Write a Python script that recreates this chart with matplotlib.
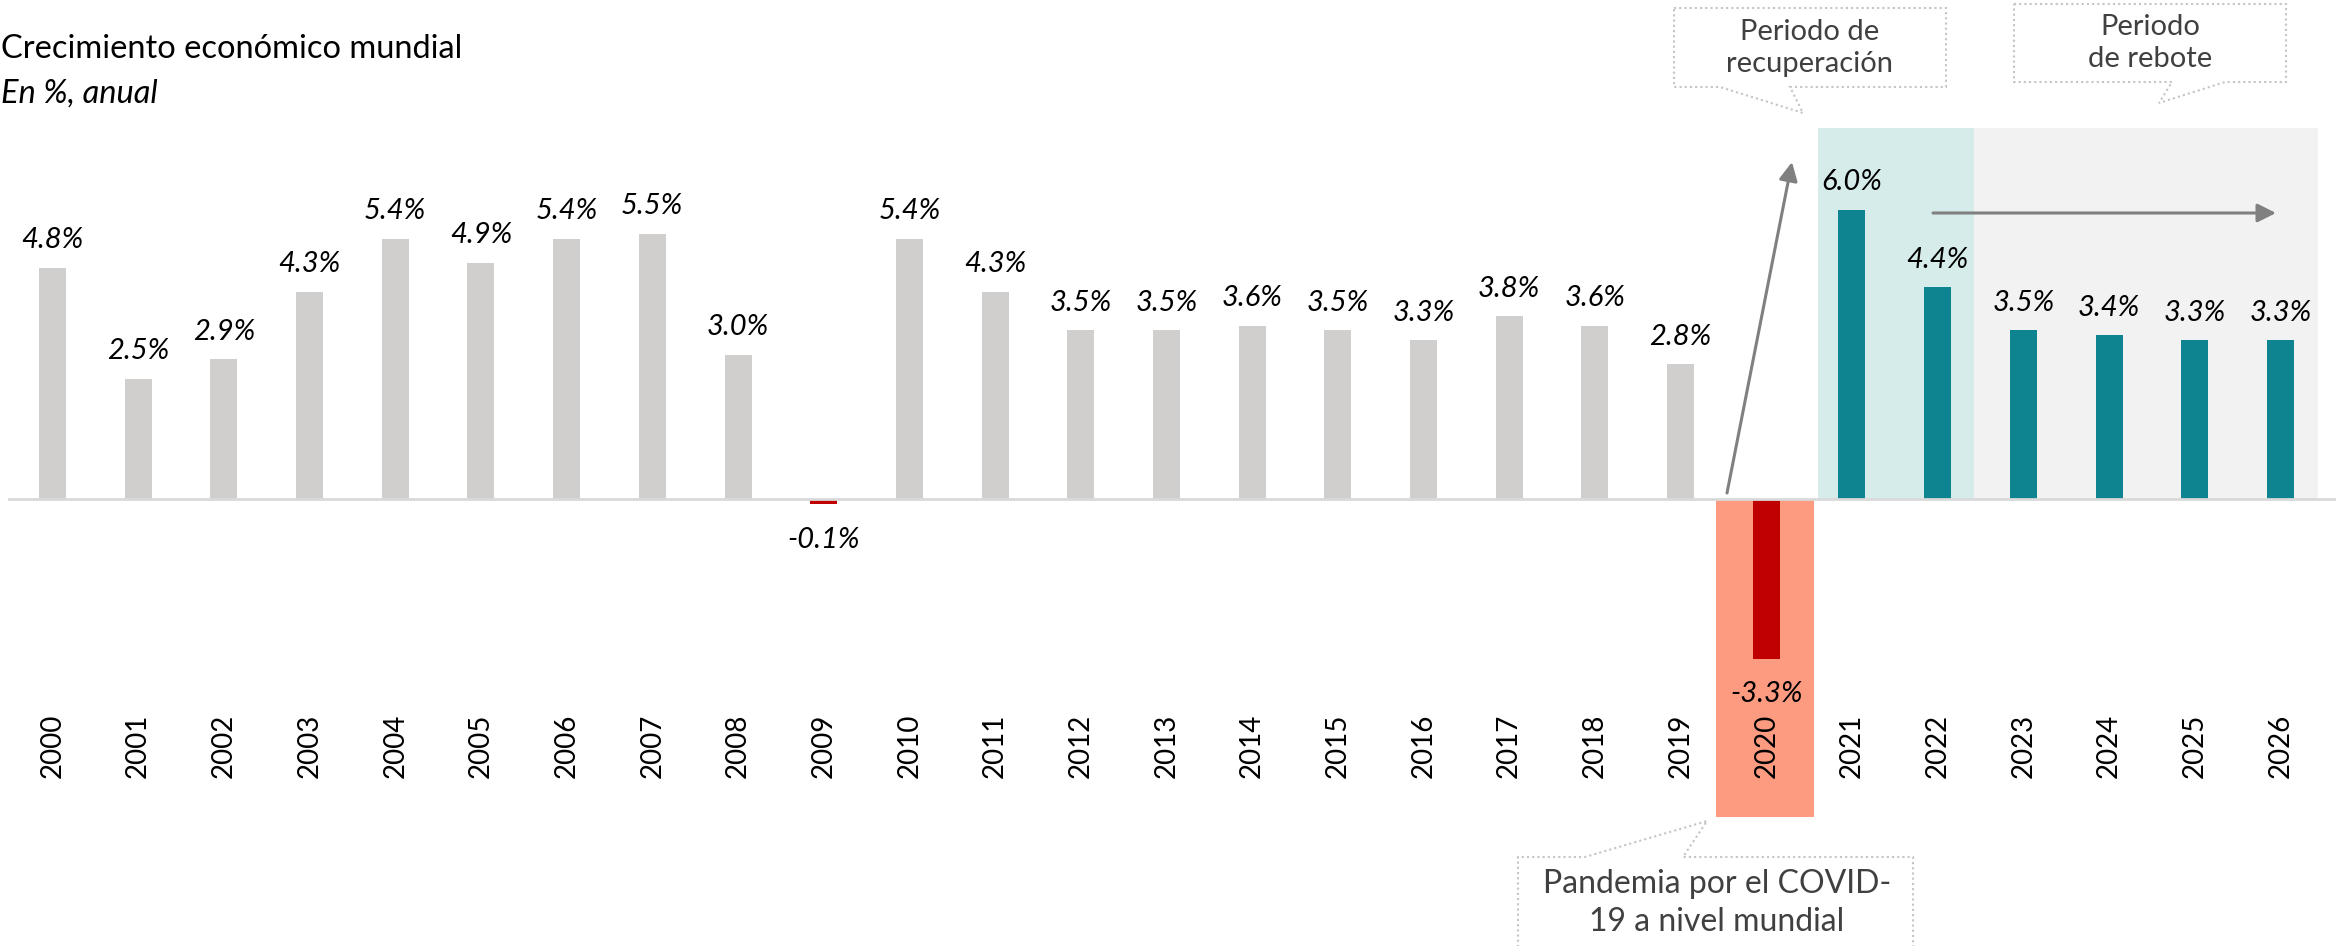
import matplotlib
matplotlib.use("Agg")
import matplotlib.pyplot as plt
from matplotlib.patches import Polygon

plt.rcParams['font.family'] = ['Lato', 'DejaVu Sans']

years = [str(y) for y in range(2000, 2027)]
growth = [4.8, 2.5, 2.9, 4.3, 5.4, 4.9, 5.4, 5.5, 3.0, -0.1,
          5.4, 4.3, 3.5, 3.5, 3.6, 3.5, 3.3, 3.8, 3.6, 2.8,
          -3.3, 6.0, 4.4, 3.5, 3.4, 3.3, 3.3]
title = "Crecimiento económico mundial"
subtitle = "En %, anual"
note_recovery = "Periodo de\nrecuperación"
note_rebound = "Periodo\nde rebote"
note_covid = "Pandemia por el COVID-\n19 a nivel mundial"

GRAY = "#d0cfce"
TEAL = "#0e8490"
RED = "#c00000"
W, H = 2338, 946

fig = plt.figure(figsize=(W / 100, H / 100), dpi=100)
ax = fig.add_axes([0, 0, 1, 1])
ax.axis('off')

# pixel layout of the reference: first bar at 52.5 px, 85.69 px per year, zero at 499.5 px
step = 85.69
ppu = 48.3
ax.set_xlim(-52.5 / step, (W - 52.5) / step)
ax.set_ylim(-(H - 499.5) / ppu, 499.5 / ppu)


def px(x, y):
    # figure pixel (y from top) -> figure fraction
    return x / W, 1 - y / H


x = list(range(len(years)))
colors = []
for yr, v in zip(years, growth):
    if v < 0:
        colors.append(RED)
    elif int(yr) >= 2021:
        colors.append(TEAL)
    else:
        colors.append(GRAY)

# background highlight zones
i2020 = years.index("2020")
ax.fill_between([i2020 - 0.59, i2020 + 0.56], 0, -6.57, color="#fd9b81", lw=0, zorder=0)
ax.fill_between([i2020 + 0.60, i2020 + 2.42], 0, 7.69, color="#d6ecea", lw=0, zorder=0)
ax.fill_between([i2020 + 2.42, i2020 + 6.44], 0, 7.69, color="#f2f2f2", lw=0, zorder=0)

ax.bar(x, growth, width=0.315, color=colors, zorder=2)
ax.plot([-0.51, len(years) - 0.37], [0, 0], color="#d9d9d9", lw=2, zorder=3)

for i, v in enumerate(growth):
    if v >= 0:
        ax.annotate(f"{v:.1f}%", (i, v), xytext=(0, 14), textcoords='offset points',
                    ha='center', va='baseline', fontsize=21, style='italic', color='black')
    else:
        ax.annotate(f"{v:.1f}%", (i, v), xytext=(0, -16), textcoords='offset points',
                    ha='center', va='top', fontsize=21, style='italic', color='black')
    ax.text(i, -5.10, years[i], rotation=90, ha='center', va='center', fontsize=20, color='black')

fig.text(*px(1, 58), title, fontsize=23.5, ha='left', va='baseline', color='black')
fig.text(*px(1, 103), subtitle, fontsize=23.5, ha='left', va='baseline', style='italic', color='black')

# arrows
ax.annotate("", xy=px(1792, 162), xytext=px(1727, 493), xycoords='figure fraction',
            textcoords='figure fraction',
            arrowprops=dict(arrowstyle='-|>', color='#808080', lw=2.2, mutation_scale=28, shrinkA=0, shrinkB=0))
ax.annotate("", xy=px(2276, 213), xytext=px(1933, 213), xycoords='figure fraction',
            textcoords='figure fraction',
            arrowprops=dict(arrowstyle='-|>', color='#808080', lw=2.2, mutation_scale=28, shrinkA=0, shrinkB=0))

# callouts
callouts = [
    [(1674, 8), (1946, 8), (1946, 87), (1790, 87), (1803, 113), (1720, 87), (1674, 87)],
    [(2014, 4), (2286, 4), (2286, 82), (2225, 82), (2159, 103), (2172, 82), (2014, 82)],
    [(1518, 960), (1518, 857), (1585, 857), (1707, 821), (1683, 857), (1913, 857), (1913, 960)],
]
for pts in callouts:
    poly = Polygon([px(a, b) for a, b in pts], closed=True, fill=False, edgecolor="#c4c4c4",
                   lw=1.5, ls=(0, (1, 1.5)), transform=fig.transFigure, zorder=5)
    fig.patches.append(poly)

fig.text(*px(1810, 48), note_recovery, ha='center', va='center', fontsize=21,
         color='#404040', linespacing=1.3)
fig.text(*px(2150, 43), note_rebound, ha='center', va='center', fontsize=21,
         color='#404040', linespacing=1.3)
fig.text(*px(1717, 903), note_covid, ha='center', va='center', fontsize=23,
         color='#404040', linespacing=1.3)

fig.savefig("out.png", dpi=100)
